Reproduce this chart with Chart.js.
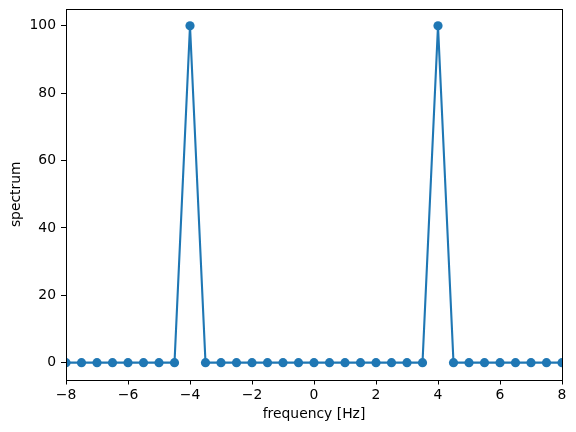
<!DOCTYPE html>
<html>
<head>
<meta charset="utf-8">
<script src="https://cdn.jsdelivr.net/npm/chart.js@4/dist/chart.umd.min.js"></script>
<style>
html,body{margin:0;padding:0;background:#fff;}
#wrap{width:576px;height:432px;}
</style>
</head>
<body>
<div id="wrap"><canvas id="c" width="576" height="432"></canvas></div>
<script>
const frequency = [-8, -7.5, -7, -6.5, -6, -5.5, -5, -4.5, -4, -3.5, -3, -2.5, -2, -1.5, -1, -0.5, 0, 0.5, 1, 1.5, 2, 2.5, 3, 3.5, 4, 4.5, 5, 5.5, 6, 6.5, 7, 7.5, 8];
const spectrum  = [0, 0, 0, 0, 0, 0, 0, 0, 100, 0, 0, 0, 0, 0, 0, 0, 0, 0, 0, 0, 0, 0, 0, 0, 100, 0, 0, 0, 0, 0, 0, 0, 0];
const xTicks = [-8, -6, -4, -2, 0, 2, 4, 6, 8];
const yTicks = [0, 20, 40, 60, 80, 100];

const color = '#1f77b4';
const font = {family: 'DejaVu Sans', size: 13.9};
const fmt = v => (v < 0 ? '\u2212' + Math.abs(v) : String(v));

const boxPlugin = {
  id: 'box',
  afterDraw(chart) {
    const a = chart.chartArea, ctx = chart.ctx;
    ctx.save();
    ctx.strokeStyle = '#000';
    ctx.lineWidth = 1;
    ctx.strokeRect(Math.round(a.left) + 0.5, Math.round(a.top) + 0.5, Math.round(a.right - a.left), Math.round(a.bottom - a.top));
    ctx.restore();
  }
};

new Chart(document.getElementById('c'), {
  type: 'scatter',
  data: {
    datasets: [{
      data: frequency.map((f, i) => ({x: f, y: spectrum[i]})),
      showLine: true,
      borderColor: color,
      backgroundColor: color,
      borderWidth: 2.1,
      pointRadius: 4.6,
      pointHoverRadius: 4.6,
      pointBorderWidth: 0,
      pointBackgroundColor: color,
      clip: 0,
      tension: 0
    }]
  },
  options: {
    responsive: false,
    animation: false,
    devicePixelRatio: 1,
    plugins: {legend: {display: false}, tooltip: {enabled: false}},
    layout: {padding: {top: 9, right: 14, left: 0, bottom: 0}},
    scales: {
      x: {
        type: 'linear',
        min: -8, max: 8,
        afterBuildTicks: s => { s.ticks = xTicks.map(v => ({value: v})); },
        afterFit: s => { s.height = 52.5; s.paddingLeft = 0; s.paddingRight = 0; },
        grid: {display: true, drawOnChartArea: false, drawTicks: true, tickLength: 5, color: '#000', tickWidth: 1},
        border: {display: false},
        ticks: {color: '#000', font: font, padding: 3, maxRotation: 0, autoSkip: false, callback: fmt},
        title: {display: true, text: 'frequency [Hz]', color: '#000', font: font, padding: {top: 0, bottom: 9}}
      },
      y: {
        type: 'linear',
        min: -5, max: 105,
        afterBuildTicks: s => { s.ticks = yTicks.map(v => ({value: v})); },
        afterFit: s => { s.width = 66; s.paddingTop = 0; s.paddingBottom = 0; },
        grid: {display: true, drawOnChartArea: false, drawTicks: true, tickLength: 5, color: '#000', tickWidth: 1},
        border: {display: false},
        ticks: {color: '#000', font: font, padding: 5, autoSkip: false, callback: fmt},
        title: {display: true, text: 'spectrum', color: '#000', font: font, padding: {top: 8, bottom: 0}}
      }
    }
  },
  plugins: [boxPlugin]
});
</script>
</body>
</html>
